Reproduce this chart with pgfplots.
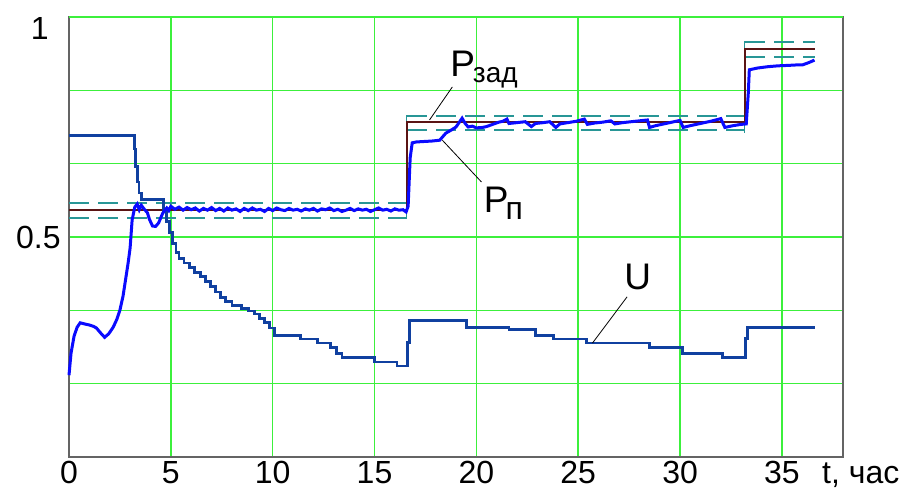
\documentclass[border=0pt]{standalone}
\usepackage{fontspec}
\setmainfont{Liberation Sans}
\usepackage{pgfplots}
\pgfplotsset{compat=1.18}
\usetikzlibrary{calc}

\definecolor{gridgreen}{RGB}{60,240,60}
\definecolor{ucol}{RGB}{16,64,160}
\definecolor{pcol}{RGB}{10,10,255}
\definecolor{zcol}{RGB}{90,20,20}
\definecolor{bandcol}{RGB}{40,150,150}
\definecolor{framecol}{RGB}{100,100,100}

\begin{document}
\begin{tikzpicture}
\begin{axis}[
  name=ax,
  width=387pt, height=220pt, scale only axis,
  xmin=0, xmax=38, ymin=0, ymax=1,
  xtick={0,5,...,35},
  ytick={0.5},
  minor ytick={0.16667,0.33333,0.66667,0.83333},
  extra y ticks={1},
  extra y tick style={yticklabel style={xshift=-6pt, yshift=-5.75pt}},
  grid=both,
  major grid style={gridgreen, line width=0.75pt},
  minor grid style={gridgreen, line width=0.75pt},
  tick style={draw=none},
  major tick length=0pt, minor tick length=0pt,
  axis line style={framecol, line width=1pt},
  /pgf/number format/assume math mode=true,
  tick label style={font=\fontsize{16}{19}\selectfont},
  xticklabel style={anchor=base, yshift=-13pt},
  yticklabel style={anchor=east, inner sep=0pt, xshift=-4pt},
  unbounded coords=jump,
  clip=false,
]
% tolerance bands
\addplot[bandcol, line width=0.75pt, dash pattern=on 10pt off 4.5pt] table {
x y
0 0.577
16.6 0.577
nan nan
0 0.543
16.6 0.543
nan nan
16.6 0.775
33.2 0.775
nan nan
16.6 0.743
33.2 0.743
nan nan
33.2 0.943
36.6 0.943
nan nan
33.2 0.909
36.6 0.909
};
\addplot[bandcol, line width=0.5pt] table {
x y
16.55 0.543
16.55 0.777
nan nan
33.15 0.737
33.15 0.945
};
% P_zad
\addplot[zcol, line width=1pt, const plot] table {
x y
0 0.561
16.6 0.761
33.2 0.927
36.6 0.927
};
% U
\addplot[ucol, line width=1.4pt, const plot] table {
x y
0 0.730
3.2 0.700
3.28 0.660
3.36 0.625
3.44 0.600
3.55 0.586
4.65 0.560
4.8 0.535
4.95 0.510
5.1 0.485
5.25 0.465
5.4 0.452
5.65 0.441
5.9 0.430
6.15 0.420
6.45 0.410
6.7 0.398
6.95 0.388
7.2 0.375
7.45 0.362
7.7 0.353
8.0 0.345
8.45 0.337
8.8 0.332
9.1 0.325
9.35 0.315
9.6 0.305
9.85 0.293
10.1 0.277
11.35 0.268
12.2 0.259
12.85 0.248
13.15 0.236
13.4 0.227
15.0 0.216
16.1 0.207
16.6 0.260
16.7 0.311
19.5 0.295
21.6 0.289
22.9 0.277
23.8 0.268
25.4 0.259
28.5 0.248
30.1 0.236
32.1 0.227
33.2 0.270
33.3 0.295
36.6 0.295
};
% P_p
\addplot[pcol, line width=1.5pt] table {
x y
0 0.186
0.1 0.236
0.25 0.275
0.4 0.295
0.55 0.305
0.8 0.302
1.0 0.300
1.2 0.297
1.35 0.293
1.55 0.282
1.75 0.272
1.95 0.280
2.17 0.295
2.35 0.313
2.5 0.334
2.65 0.365
2.75 0.395
2.9 0.440
3.0 0.475
3.1 0.539
3.23 0.568
3.35 0.575
3.45 0.562
3.55 0.572
3.7 0.563
3.85 0.555
3.95 0.540
4.1 0.525
4.25 0.524
4.4 0.532
4.6 0.554
4.8 0.566
4.9 0.560
5.0 0.570
5.2 0.563
5.4 0.568
5.6 0.561
5.8 0.567
6.0 0.562
6.2 0.566
6.4 0.559
6.6 0.565
6.8 0.561
7.0 0.567
7.2 0.560
7.4 0.565
7.6 0.559
7.8 0.566
8.0 0.561
8.2 0.564
8.4 0.558
8.6 0.565
8.8 0.560
9.0 0.566
9.2 0.561
9.4 0.563
9.6 0.558
9.8 0.565
10.0 0.560
10.2 0.566
10.4 0.562
10.6 0.560
10.8 0.565
11.0 0.561
11.2 0.563
11.4 0.559
11.6 0.564
11.8 0.561
12.0 0.565
12.2 0.559
12.4 0.564
12.6 0.562
12.8 0.566
13.0 0.560
13.2 0.563
13.4 0.558
13.6 0.561
13.8 0.565
14.0 0.560
14.2 0.564
14.4 0.561
14.6 0.563
14.8 0.558
15.0 0.562
15.2 0.566
15.4 0.561
15.6 0.563
15.8 0.559
16.0 0.564
16.2 0.561
16.4 0.562
16.55 0.557
16.65 0.570
16.75 0.680
16.85 0.714
17.05 0.716
17.4 0.717
17.8 0.718
18.2 0.720
18.5 0.736
18.8 0.744
19.0 0.750
19.3 0.770
19.45 0.758
19.6 0.750
19.8 0.752
20.0 0.748
20.3 0.749
20.5 0.751
20.8 0.756
21.1 0.761
21.3 0.763
21.5 0.768
21.6 0.758
22.0 0.760
22.4 0.762
22.7 0.751
22.9 0.758
23.3 0.760
23.6 0.762
23.9 0.749
24.1 0.757
24.5 0.760
24.9 0.763
25.3 0.768
25.45 0.756
25.8 0.759
26.2 0.761
26.6 0.764
26.8 0.757
27.2 0.760
27.6 0.762
28.0 0.764
28.4 0.766
28.5 0.749
28.8 0.753
29.2 0.757
29.6 0.761
30.0 0.765
30.15 0.749
30.5 0.753
31.0 0.758
31.5 0.763
32.0 0.769
32.2 0.749
32.6 0.753
33.0 0.756
33.25 0.757
33.35 0.827
33.4 0.880
33.8 0.884
34.3 0.887
34.8 0.889
35.3 0.890
35.7 0.891
36.0 0.891
36.3 0.896
36.6 0.902
};
% annotations
\draw[black, line width=0.4pt] (axis cs:18.82,0.841) -- (axis cs:17.7,0.766);
\draw[black, line width=0.4pt] (axis cs:20.25,0.625) -- (axis cs:18.33,0.720);
\draw[black, line width=0.4pt] (axis cs:27.4,0.364) -- (axis cs:25.7,0.259);
\node[anchor=base west, inner sep=0pt, font=\fontsize{18.5}{22}\selectfont]
  at (axis cs:18.7,0.864) {P\kern-1pt\raisebox{-3pt}{\fontsize{14}{16}\selectfont зад}};
\node[anchor=base west, inner sep=0pt, font=\fontsize{18.5}{22}\selectfont]
  at (axis cs:20.35,0.555) {P\kern-1.5pt\raisebox{-3.5pt}{\fontsize{16}{18}\selectfont п}};
\node[anchor=base west, inner sep=0pt, font=\fontsize{18.5}{22}\selectfont]
  at (axis cs:27.25,0.380) {U};
\node[anchor=base west, inner sep=0pt, font=\fontsize{16}{19}\selectfont]
  at (axis cs:36.96,0) [yshift=-13pt] {t, час};
\end{axis}
\pgfresetboundingbox
\useasboundingbox ($(ax.south west)+(-34.5pt,-15.5pt)$) rectangle ($(ax.north east)+(32pt,8.5pt)$);
\end{tikzpicture}
\end{document}
